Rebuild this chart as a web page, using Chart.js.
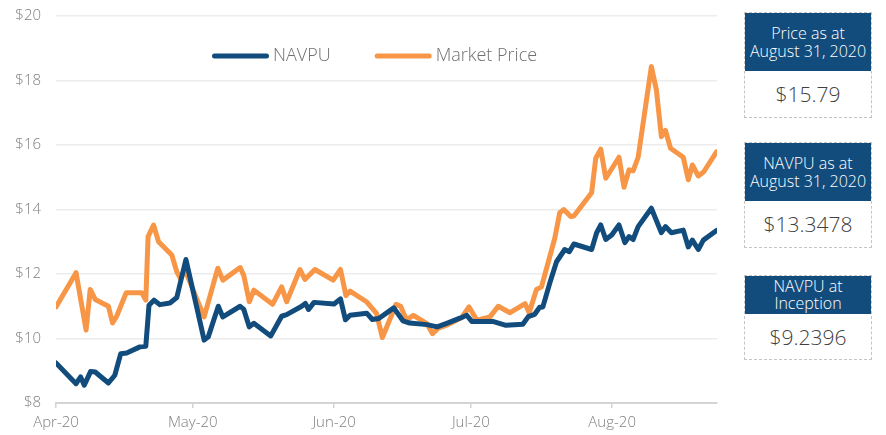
<!DOCTYPE html>
<html>
<head>
<meta charset="utf-8">
<script src="https://cdn.jsdelivr.net/npm/chart.js@4/dist/chart.umd.min.js"></script>
<style>
  body { margin: 0; background: #fff; font-family: "Open Sans", Roboto, sans-serif; }
  #wrap { position: absolute; left: 0; top: 0; width: 730px; height: 435px; }
  .panel { position: absolute; left: 744px; width: 128px; box-sizing: border-box; border: 1px dashed #c4c4c4; }
  .panel .head { background: #124c7c; color: #fff; text-align: center; font-size: 16px; font-weight: 300; line-height: 18px; display: flex; align-items: center; justify-content: center; white-space: nowrap; }
  .panel .val { color: #404040; text-align: center; font-size: 21px; font-weight: 300; display: flex; align-items: center; justify-content: center; }
</style>
</head>
<body>
<div id="wrap"><canvas id="chart" width="730" height="435"></canvas></div>

<div class="panel" style="top:12px"><div class="head" style="height:58px">Price as at<br>August 31, 2020</div><div class="val" style="height:46px">$15.79</div></div>
<div class="panel" style="top:142px"><div class="head" style="height:58px">NAVPU as at<br>August 31, 2020</div><div class="val" style="height:46px">$13.3478</div></div>
<div class="panel" style="top:275px"><div class="head" style="height:38px;line-height:17px">NAVPU at<br>Inception</div><div class="val" style="height:45px">$9.2396</div></div>

<script>
// x in days from Apr 1 (axis spacing)
const MONTH_TICKS = [0, 30, 61, 91, 122];
const MONTH_LABELS = ['Apr-20', 'May-20', 'Jun-20', 'Jul-20', 'Aug-20'];

const navDays = [0, 4.4, 5.4, 6.2, 7.6, 8.6, 11.5, 12.9, 14.2, 15.5, 18.4, 19.7, 20.4, 21.5, 22.8, 25.0, 26.5, 28.5,
  32.5, 33.4, 35.6, 36.6, 40.4, 41.2, 42.4, 43.4, 47.1, 49.5, 50.6, 53.9, 54.7, 55.4, 56.6, 61.0, 62.4, 63.5, 64.5,
  68.2, 69.4, 70.8, 74.1, 76.1, 77.6, 81.4, 83.6, 85.7, 88.6, 90.1, 91.2, 95.8, 98.7, 102.4, 103.6, 105.0, 106.1,
  106.8, 108.3, 109.8, 111.6, 112.6, 113.6, 117.5, 118.6, 119.5, 120.6, 121.9, 123.5, 124.8, 125.7, 126.6, 127.7,
  130.6, 132.8, 133.7, 135.0, 137.6, 138.7, 139.6, 140.9, 142.0, 144.9];
const navValues = [9.24, 8.60, 8.81, 8.55, 8.98, 8.96, 8.62, 8.86, 9.53, 9.55, 9.74, 9.76, 11.03, 11.19, 11.05, 11.10, 11.27, 12.45,
  9.95, 10.05, 11.00, 10.67, 11.00, 10.90, 10.36, 10.47, 10.08, 10.69, 10.74, 11.00, 11.09, 10.90, 11.12, 11.07, 11.23, 10.58, 10.72,
  10.78, 10.59, 10.62, 10.95, 10.55, 10.48, 10.43, 10.36, 10.47, 10.63, 10.72, 10.53, 10.53, 10.41, 10.44, 10.68, 10.75, 10.97,
  10.98, 11.71, 12.38, 12.76, 12.69, 12.93, 12.76, 13.28, 13.52, 13.07, 13.21, 13.52, 12.97, 13.16, 13.07, 13.47,
  14.04, 13.28, 13.47, 13.28, 13.36, 12.84, 13.05, 12.76, 13.05, 13.35];

const priceDays = [0, 4.4, 6.6, 7.5, 8.6, 11.5, 12.4, 13.3, 15.4, 18.8, 19.7, 20.2, 21.4, 22.5, 25.4, 26.5, 27.3, 28.3,
  32.5, 35.5, 36.6, 40.4, 41.2, 42.4, 43.4, 47.5, 49.5, 50.6, 53.5, 54.6, 56.8, 60.8, 62.4, 63.6, 64.5, 68.1, 70.3,
  71.6, 74.6, 75.6, 76.9, 78.4, 81.3, 82.6, 83.8, 85.7, 89.0, 90.6, 92.3, 95.2, 97.0, 99.6, 102.9, 103.8, 105.4,
  106.5, 109.4, 110.5, 111.4, 112.9, 113.6, 117.5, 118.4, 119.5, 120.6, 123.5, 124.6, 125.7, 126.6, 127.7, 130.6,
  131.7, 132.8, 133.7, 134.8, 137.6, 138.7, 139.6, 140.9, 142.1, 144.9];
const priceValues = [10.98, 12.04, 10.26, 11.52, 11.21, 11.00, 10.48, 10.69, 11.42, 11.42, 11.19, 13.16, 13.52, 13.00, 12.59, 12.07, 11.86, 12.12,
  10.67, 12.18, 11.81, 12.20, 11.95, 11.14, 11.50, 11.06, 11.60, 11.14, 12.14, 11.83, 12.14, 11.81, 12.14, 11.33, 11.47, 11.14, 10.78,
  10.03, 11.06, 11.00, 10.57, 10.72, 10.47, 10.15, 10.31, 10.41, 10.65, 10.98, 10.57, 10.67, 11.00, 10.80, 11.08, 10.80, 11.52,
  11.60, 13.10, 13.90, 14.00, 13.78, 13.80, 14.52, 15.59, 15.87, 14.97, 15.62, 14.69, 15.23, 15.20, 15.62, 18.43,
  17.71, 16.26, 16.45, 15.90, 15.62, 14.92, 15.38, 15.04, 15.17, 15.79];

const BLUE = '#124c7c';
const ORANGE = '#f79646';
const FONT = '"Open Sans", Roboto, sans-serif';
const pts = (xs, ys) => xs.map((x, i) => ({ x, y: ys[i] }));

// legend drawn inside the plot, one row, line swatches with round caps
const lineLegend = {
  id: 'lineLegend',
  afterDraw(chart) {
    const { ctx, chartArea } = chart;
    ctx.save();
    ctx.font = '300 18px ' + FONT;
    ctx.textBaseline = 'middle';
    const sw = 57, gap = 4, space = 44, y = 56;
    let x = chartArea.left + 156;
    chart.data.datasets.forEach(d => {
      ctx.strokeStyle = d.borderColor;
      ctx.lineWidth = 5;
      ctx.lineCap = 'round';
      ctx.beginPath();
      ctx.moveTo(x + 2.5, y);
      ctx.lineTo(x + sw - 2.5, y);
      ctx.stroke();
      ctx.fillStyle = '#707070';
      ctx.fillText(d.label, x + sw + gap, y);
      x += sw + gap + ctx.measureText(d.label).width + space;
    });
    ctx.restore();
  }
};

new Chart(document.getElementById('chart'), {
  type: 'line',
  data: {
    datasets: [
      { label: 'NAVPU', data: pts(navDays, navValues), borderColor: BLUE, backgroundColor: BLUE,
        borderWidth: 5, pointRadius: 0, tension: 0, borderJoinStyle: 'round', borderCapStyle: 'round' },
      { label: 'Market Price', data: pts(priceDays, priceValues), borderColor: ORANGE, backgroundColor: ORANGE,
        borderWidth: 5, pointRadius: 0, tension: 0, borderJoinStyle: 'round', borderCapStyle: 'round' }
    ]
  },
  options: {
    responsive: false,
    animation: false,
    layout: { padding: { top: 16, right: 13, left: 0, bottom: 0 } },
    scales: {
      x: {
        type: 'linear', min: 0, max: 145,
        afterBuildTicks: s => { s.ticks = MONTH_TICKS.map(v => ({ value: v })); },
        afterFit: s => { s.height = 32; },
        ticks: { color: '#808080', font: { family: FONT, size: 15, weight: 300 }, padding: 6, maxRotation: 0,
          callback: v => MONTH_LABELS[MONTH_TICKS.indexOf(v)] },
        grid: { drawOnChartArea: false, drawTicks: true, tickLength: 5, color: '#d4d4d4', lineWidth: 1.5 },
        border: { display: true, color: '#d4d4d4', width: 2 }
      },
      y: {
        min: 8, max: 20,
        afterFit: s => { s.width = 56; s.paddingTop = 0; s.paddingBottom = 0; },
        ticks: { stepSize: 2, color: '#808080', font: { family: FONT, size: 15, weight: 300 }, padding: 15,
          callback: v => '$' + v },
        grid: { color: '#ececec', lineWidth: 1.5, drawTicks: false },
        border: { display: false }
      }
    },
    plugins: {
      tooltip: { enabled: false },
      legend: { display: false }
    }
  },
  plugins: [lineLegend]
});
</script>
</body>
</html>
